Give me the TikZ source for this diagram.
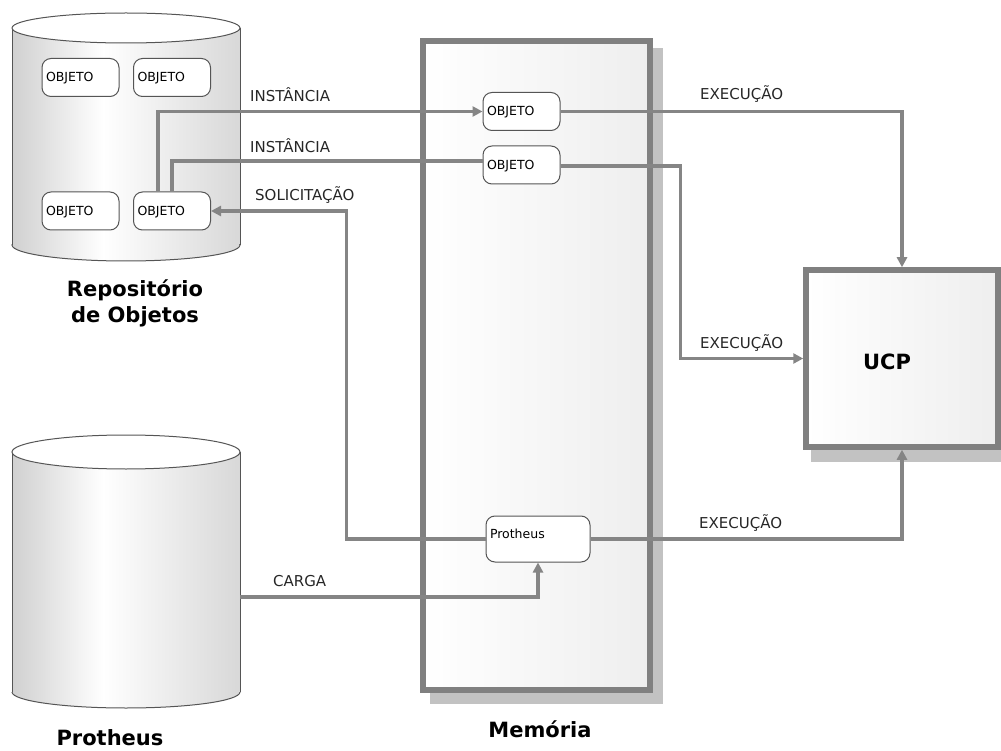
\documentclass[tikz,border=0pt]{standalone}
\usepackage{fontspec}
\setmainfont{DejaVu Sans}
\usetikzlibrary{arrows.meta,calc}
\definecolor{ln}{HTML}{858585}
\definecolor{shd}{HTML}{C2C2C2}
\definecolor{edge}{HTML}{555555}
\definecolor{bord}{HTML}{808080}
\definecolor{cgl}{HTML}{D0D0D0}
\definecolor{cgr}{HTML}{D8D8D8}
\definecolor{memr}{HTML}{EEEEEE}
\pgfdeclarehorizontalshading{cylsh}{100bp}{color(0bp)=(cgl); color(25bp)=(cgl); color(45bp)=(white); color(75bp)=(cgr); color(100bp)=(cgr)}
\pgfdeclarehorizontalshading{memsh}{100bp}{color(0bp)=(white); color(25bp)=(white); color(75bp)=(memr); color(100bp)=(memr)}
\begin{document}
\begin{tikzpicture}[x=1pt,y=-1pt,
  conn/.style={draw=ln, line width=3.4pt},
  arr/.style={conn, -{Triangle[length=10pt,width=10pt]}},
  cyledge/.style={draw=edge, line width=1pt},
  obj/.style={draw=edge, line width=1pt, fill=white, rounded corners=9pt,
    minimum width=77pt, minimum height=38pt, inner sep=0pt,
    text width=69pt, align=left, text height=9pt, text depth=0pt,
    font=\fontsize{12.5}{14}\selectfont},
  lbl/.style={font=\fontsize{15}{18}\selectfont, inner sep=0pt, anchor=base west, text=black!85},
  big/.style={font=\bfseries\fontsize{21}{26}\selectfont, inner sep=0pt, anchor=base, align=center}
]
\useasboundingbox (0,0) rectangle (1001,751);
\clip (0,0) rectangle (1001,751);

% ---------- Repositorio cylinder ----------
\shade[shading=cylsh] (12,28) rectangle (240,245);
\shade[shading=cylsh] (126,245) ellipse [x radius=114, y radius=16];
\begin{scope}
  \clip (0,245) rectangle (260,275);
  \draw[cyledge] (126,245) ellipse [x radius=114, y radius=16];
\end{scope}
\draw[cyledge] (12,28) -- (12,245) (240,28) -- (240,245);
\filldraw[cyledge, fill=white] (126,28) ellipse [x radius=114, y radius=15];

% ---------- Protheus cylinder ----------
\shade[shading=cylsh] (12,452) rectangle (240,692);
\shade[shading=cylsh] (126,692) ellipse [x radius=114, y radius=16];
\begin{scope}
  \clip (0,692) rectangle (260,720);
  \draw[cyledge] (126,692) ellipse [x radius=114, y radius=16];
\end{scope}
\draw[cyledge] (12,452) -- (12,692) (240,452) -- (240,692);
\filldraw[cyledge, fill=white] (126,452) ellipse [x radius=114, y radius=17];
\coordinate (pcyl) at (240,597);

% ---------- Memory ----------
\fill[shd] (430,48) rectangle (663,704);
\node[draw=bord, line width=6pt, shading=memsh, shade, minimum width=227pt, minimum height=649pt, inner sep=0pt] (mem) at (536.5,365.5) {};

% ---------- UCP ----------
\fill[shd] (811,275) rectangle (1010,462);
\node[draw=bord, line width=5.5pt, shading=memsh, shade, minimum width=192pt, minimum height=177pt, inner sep=0pt,
  label={[font=\bfseries\fontsize{21}{26}\selectfont, xshift=-15pt, yshift=-3pt]center:UCP}] (ucp) at (902,358.5) {};

% ---------- objects ----------
\node[obj] (r1) at (80.5,77.5) {OBJETO};
\node[obj] (r2) at (172,77.5) {OBJETO};
\node[obj] (r3) at (80.5,211) {OBJETO};
\node[obj] (r4) at (172,211) {OBJETO};
\node[obj] (m1) at (521.5,111.5) {OBJETO};
\node[obj] (m2) at (521.5,165) {OBJETO};
\node[obj, minimum width=104pt, minimum height=46pt, text width=96pt, text height=9.5pt, text depth=11.5pt] (p) at (538,539) {Protheus};

% ---------- connectors ----------
\draw[arr] ([xshift=-14pt]r4.north) |- (m1.west);
\draw[conn] (r4.north) |- ([yshift=4pt]m2.west);
\draw[arr] (m1.east) -| (ucp.north);
\draw[arr] ([yshift=-1pt]m2.east) -- ++(120,0) |- (ucp.west);
\draw[arr] (p.east) -| (ucp.south);
\draw[arr] (p.west) -- ++(-139,0) |- (r4.east);
\draw[arr] (pcyl) -| (p.south);

% ---------- labels ----------
\node[lbl] (l1) at (250,102) {INSTÂNCIA};
\node[lbl] (l2) at (250,153) {INSTÂNCIA};
\node[lbl] (l3) at (255,201) {SOLICITAÇÃO};
\node[lbl] (l4) at (700,100) {EXECUÇÃO};
\node[lbl] (l5) at (700,348) {EXECUÇÃO};
\node[lbl] (l6) at (699,528) {EXECUÇÃO};
\node[lbl] (l7) at (273,586) {CARGA};

\node[big] (t1) at (135,322) {Repositório\\[-1pt]de Objetos};
\node[big] (t2) at (540,737) {Memória};
\node[big] (t3) at (110,745) {Protheus};
\end{tikzpicture}
\end{document}
